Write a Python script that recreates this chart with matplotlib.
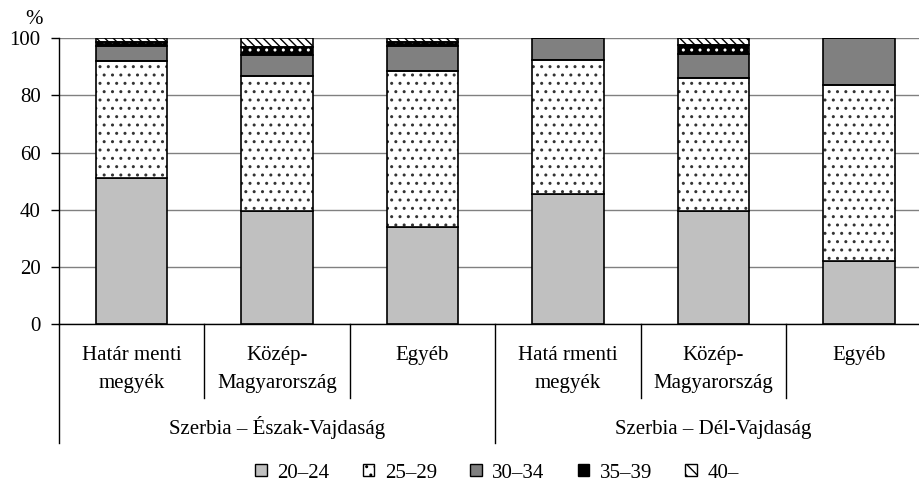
import matplotlib
matplotlib.use("Agg")
import matplotlib.pyplot as plt
from matplotlib.patches import Patch
import matplotlib.transforms as mtransforms
import numpy as np

plt.rcParams['font.family'] = ['Liberation Serif', 'DejaVu Serif']
plt.rcParams['hatch.linewidth'] = 1.0

categories = ["Határ menti\nmegyék", "Közép-\nMagyarország", "Egyéb",
              "Hatá rmenti\nmegyék", "Közép-\nMagyarország", "Egyéb"]
groups = ["Szerbia – Észak-Vajdaság", "Szerbia – Dél-Vajdaság"]
age_groups = ["20–24", "25–29", "30–34", "35–39", "40–"]

v20_24 = [51.0, 39.5, 34.0, 45.5, 39.5, 22.2]
v25_29 = [41.1, 47.2, 54.6, 47.0, 46.6, 61.5]
v30_34 = [5.2, 7.4, 8.6, 7.5, 8.3, 16.3]
v35_39 = [1.5, 3.0, 1.5, 0.0, 3.2, 0.0]
v40 = [1.2, 2.9, 1.3, 0.0, 2.4, 0.0]
yticks = [0, 20, 40, 60, 80, 100]

FS = 15
fig = plt.figure(figsize=(9.2, 4.83), dpi=100)
ax = fig.add_axes([58.7 / 920, (483 - 324.3) / 483, 873 / 920, 286 / 483])

x = np.arange(len(categories)) + 0.5
w = 0.49
lw = 1.2
bottom = np.zeros(len(categories))

# 20-24
ax.bar(x, v20_24, w, bottom=bottom, color='#c0c0c0', edgecolor='black', linewidth=lw, zorder=3)
bottom += np.array(v20_24)
# 25-29 dotted
ax.bar(x, v25_29, w, bottom=bottom, color='white', edgecolor='#333333', hatch='..', linewidth=0, zorder=3)
ax.bar(x, v25_29, w, bottom=bottom, fill=False, edgecolor='black', linewidth=lw, zorder=4)
bottom += np.array(v25_29)
# 30-34
ax.bar(x, v30_34, w, bottom=bottom, color='#808080', edgecolor='black', linewidth=lw, zorder=3)
bottom += np.array(v30_34)
# 35-39 black with white dots
ax.bar(x, v35_39, w, bottom=bottom, color='black', edgecolor='white', hatch='..', linewidth=0, zorder=3)
ax.bar(x, v35_39, w, bottom=bottom, fill=False, edgecolor='black', linewidth=lw, zorder=4)
bottom += np.array(v35_39)
# 40- diagonal hatch
ax.bar(x, v40, w, bottom=bottom, color='white', edgecolor='black', hatch='\\\\\\\\', linewidth=lw, zorder=3)

ax.set_xlim(0, 6)
ax.set_ylim(0, 100)
ax.set_yticks(yticks)
ax.set_yticklabels([str(t) for t in yticks], fontsize=FS)
ax.set_xticks([])
ax.tick_params(axis='y', length=6, width=1, pad=7, direction='out')
ax.yaxis.grid(True, color='#808080', linewidth=1)
ax.set_axisbelow(True)
for s in ['top', 'right']:
    ax.spines[s].set_visible(False)
ax.spines['left'].set_linewidth(1)
ax.spines['bottom'].set_linewidth(1)
ax.spines['bottom'].set_zorder(5)

trans = mtransforms.blended_transform_factory(ax.transData, ax.transAxes)
inner_end = -(398 - 324.3) / 286
outer_end = -(443 - 324.3) / 286
for xi in [1, 2, 4, 5]:
    ax.plot([xi, xi], [0, inner_end], color='black', lw=1, transform=trans, clip_on=False)
for xi in [0, 3, 6]:
    ax.plot([xi, xi], [0, outer_end], color='black', lw=1, transform=trans, clip_on=False)

for xi, lab in zip(x, categories):
    ax.text(xi, -(346 - 324.3) / 286, lab, transform=trans, ha='center', va='top',
            fontsize=FS, linespacing=1.65)
for gi, g in enumerate(groups):
    ax.text(1.5 + 3 * gi, -(434 - 324.3) / 286, g, transform=trans, ha='center',
            va='baseline', fontsize=FS)

fig.text(43 / 920, 1 - 19 / 483, '%', ha='right', va='center', fontsize=FS)

handles = [
    Patch(facecolor='#c0c0c0', edgecolor='black', linewidth=1),
    Patch(facecolor='white', edgecolor='black', hatch='..', linewidth=1),
    Patch(facecolor='#808080', edgecolor='black', linewidth=1),
    Patch(facecolor='black', edgecolor='black', hatch='.', linewidth=1),
    Patch(facecolor='white', edgecolor='black', hatch='\\\\\\', linewidth=1),
]
fig.legend(handles, age_groups, loc='center', bbox_to_anchor=(497 / 920, 1 - 473 / 483),
           ncol=5, frameon=False, fontsize=FS, handlelength=0.55, handleheight=0.55,
           handletextpad=0.5, columnspacing=1.6, borderpad=0, borderaxespad=0)

fig.savefig('out.png', dpi=100)
